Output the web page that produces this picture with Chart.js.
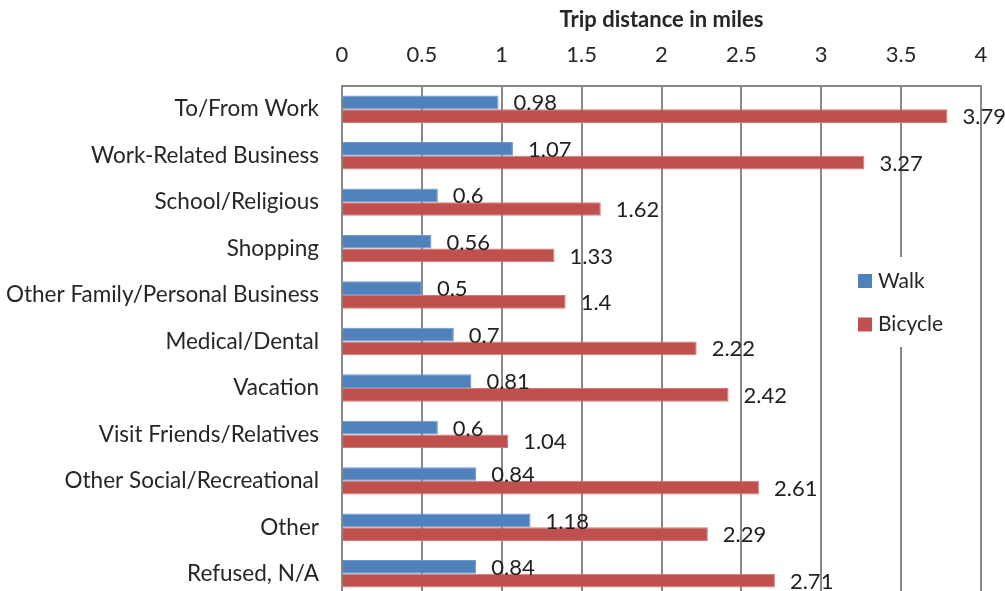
<!DOCTYPE html>
<html>
<head>
<meta charset="utf-8">
<script src="https://cdn.jsdelivr.net/npm/chart.js@4.4.1/dist/chart.umd.min.js"></script>
<style>
    html, body { margin: 0; padding: 0; background: #fff; overflow: hidden; }
    #wrap { width: 1005px; height: 600px; }
</style>
</head>
<body>
<div id="wrap"><canvas id="TripChart" width="1005" height="600"></canvas></div>
<script>
var purposes = [
    'To/From Work',
    'Work-Related Business',
    'School/Religious',
    'Shopping',
    'Other Family/Personal Business',
    'Medical/Dental',
    'Vacation',
    'Visit Friends/Relatives',
    'Other Social/Recreational',
    'Other',
    'Refused, N/A'
];
var walk_miles = [0.98, 1.07, 0.6, 0.56, 0.5, 0.7, 0.81, 0.6, 0.84, 1.18, 0.84];
var bicycle_miles = [3.79, 3.27, 1.62, 1.33, 1.4, 2.22, 2.42, 1.04, 2.61, 2.29, 2.71];
var axis_min = 0;
var axis_max = 4;
var axis_step = 0.5;

var textcolor = '#262626';
var linecolor = '#888888';

// numbers printed just past the end of each bar
const valueLabels = {
    id: 'valueLabels',
    afterDatasetsDraw(chart) {
        const ctx = chart.ctx;
        ctx.save();
        ctx.font = '22px Lato';
        ctx.fillStyle = '#1f1f1f';
        ctx.textBaseline = 'middle';
        ctx.textAlign = 'left';
        chart.data.datasets.forEach(function (ds, i) {
            chart.getDatasetMeta(i).data.forEach(function (bar, j) {
                ctx.fillText(String(ds.data[j]), bar.x + 15, bar.y + 1);
            });
        });
        ctx.restore();
    }
};

// legend box sitting inside the plot, on a white patch over the grid
const insideLegend = {
    id: 'insideLegend',
    afterDraw(chart) {
        const ctx = chart.ctx;
        const area = chart.chartArea;
        const x0 = area.right - 123;
        const y0 = area.top + 171;
        ctx.save();
        ctx.fillStyle = '#ffffff';
        ctx.fillRect(x0 - 10, y0, 118, 90);
        ctx.font = '21px Lato';
        ctx.textBaseline = 'middle';
        chart.data.datasets.forEach(function (ds, i) {
            const y = y0 + 24 + i * 43.5;
            ctx.fillStyle = ds.backgroundColor;
            ctx.fillRect(x0, y - 7, 14, 14);
            ctx.fillStyle = textcolor;
            ctx.fillText(ds.label, x0 + 20, y);
        });
        ctx.restore();
    }
};

const ctx = document.getElementById('TripChart');
const TripChart = new Chart(ctx, {
    type: 'bar',
    data: {
        labels: purposes,
        datasets: [{
            label: 'Walk',
            data: walk_miles,
            backgroundColor: '#4f81bd',
            borderColor: '#7099cc',
            borderWidth: 1
        }, {
            label: 'Bicycle',
            data: bicycle_miles,
            backgroundColor: '#c0504d',
            borderColor: '#d27875',
            borderWidth: 1
        }]
    },
    options: {
        indexAxis: 'y',
        responsive: false,
        animation: false,
        layout: {
            padding: { left: 0, right: 24, top: 0, bottom: 3 }
        },
        datasets: {
            bar: {
                categoryPercentage: 0.59,
                barPercentage: 1.0
            }
        },
        plugins: {
            legend: { display: false },
            tooltip: { enabled: false }
        },
        scales: {
            x: {
                position: 'top',
                min: axis_min,
                max: axis_max,
                // fixed band height, and no extra room reserved for the end labels
                afterFit: function (scale) {
                    scale.height = 86;
                    scale.paddingLeft = 0;
                    scale.paddingRight = 0;
                },
                ticks: {
                    stepSize: axis_step,
                    padding: 18,
                    color: textcolor,
                    font: { family: 'Lato', size: 22 },
                    callback: function (value) { return String(value); }
                },
                grid: {
                    color: linecolor,
                    lineWidth: 2,
                    drawTicks: false
                },
                border: {
                    color: linecolor,
                    width: 2
                },
                title: {
                    display: true,
                    text: 'Trip distance in miles',
                    color: textcolor,
                    font: { family: 'Lato', size: 22, weight: 'bold' },
                    padding: { top: 7, bottom: 0 }
                }
            },
            y: {
                afterFit: function (scale) {
                    scale.width = 342;
                    scale.paddingTop = 0;
                    scale.paddingBottom = 0;
                },
                ticks: {
                    padding: 23,
                    color: textcolor,
                    font: { family: 'Lato', size: 22.5 }
                },
                grid: { display: false, drawTicks: false },
                border: {
                    display: true,
                    color: linecolor,
                    width: 2
                }
            }
        }
    },
    plugins: [valueLabels, insideLegend]
});
</script>
</body>
</html>
